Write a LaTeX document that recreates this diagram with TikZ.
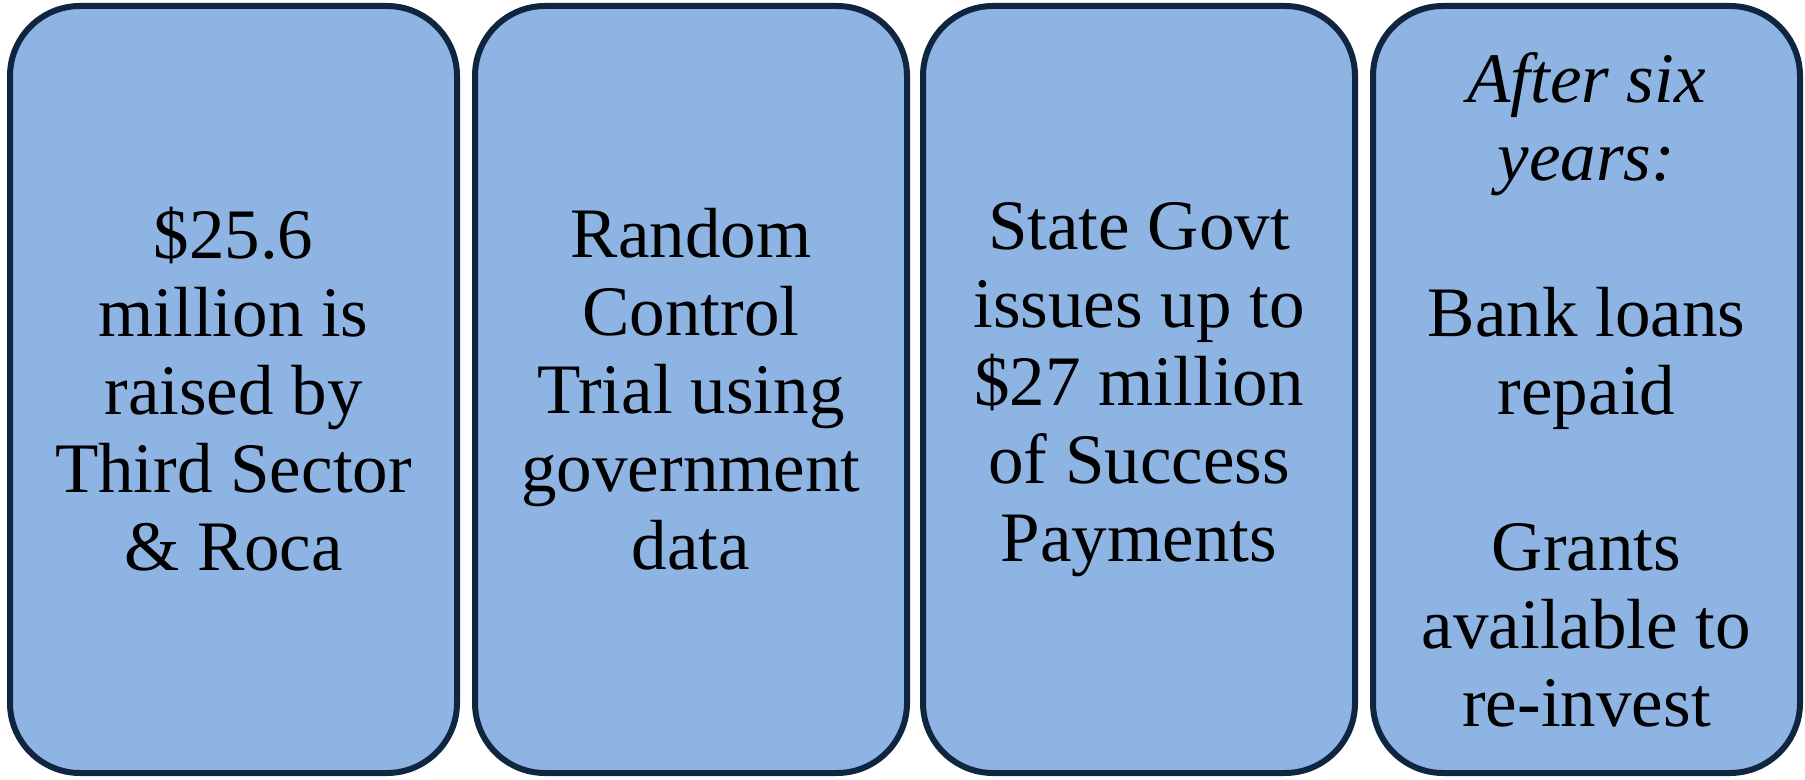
\documentclass[tikz,border=0pt]{standalone}
\usepackage{fontspec}
\setmainfont{Liberation Serif}
\usepackage{xcolor}
\definecolor{boxfill}{HTML}{8EB4E3}
\definecolor{boxline}{HTML}{10253F}

\begin{document}
\begin{tikzpicture}[x=0.5pt,y=-0.5pt,
    stage/.style={draw=boxline, fill=boxfill, line width=3pt, rounded corners=35pt,
      minimum height=383.5pt, inner sep=0pt, align=center,
      font=\fontsize{35.5}{39}\selectfont}]
        % keep the page the size of the reference
        \useasboundingbox (0,0) rectangle (1805,780);

        % the four stages
        \node[stage, minimum width=223.5pt] (raise) at (233.5,389.5)
          {\$25.6\\ million is\\ raised by\\ Third Sector\\ \& Roca};
        \node[stage, minimum width=216pt] (trial) at (691,389.5)
          {Random\\ Control\\ Trial using\\ government\\ data};
        \node[stage, minimum width=216pt] (payments) at (1139,389.5)
          {State Govt\\ issues up to\\ \$27 million\\ of Success\\ Payments};
        \node[stage, minimum width=213.5pt] (repay) at (1586.5,389.5)
          {\textit{After six}\\ \textit{years:}\\[39pt] Bank loans\\ repaid\\[39pt] Grants\\ available to\\ re-invest};
\end{tikzpicture}
\end{document}
